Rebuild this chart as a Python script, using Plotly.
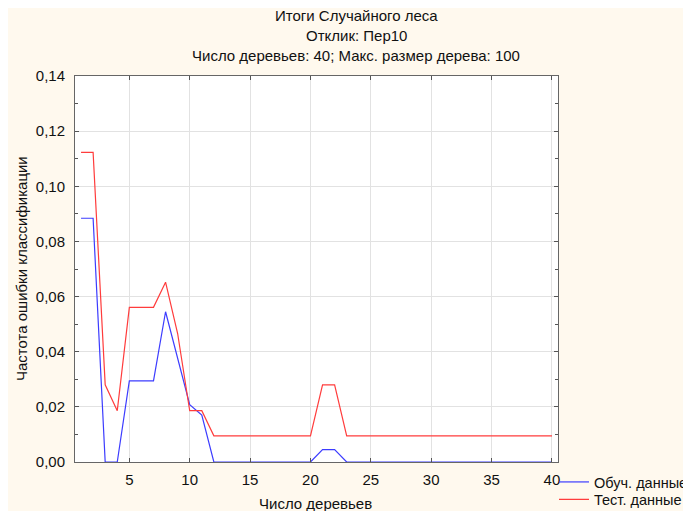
import plotly.graph_objects as go

n_trees = list(range(1, 41))

train_err = [0.0884, 0.0884, 0.0, 0.0, 0.0294, 0.0294, 0.0294, 0.0545, 0.0375, 0.0208,
             0.0170, 0.0, 0.0, 0.0, 0.0, 0.0, 0.0, 0.0, 0.0, 0.0,
             0.0045, 0.0045, 0.0, 0.0, 0.0, 0.0, 0.0, 0.0, 0.0, 0.0,
             0.0, 0.0, 0.0, 0.0, 0.0, 0.0, 0.0, 0.0, 0.0, 0.0]

test_err = [0.1123, 0.1123, 0.0280, 0.0186, 0.0561, 0.0561, 0.0561, 0.0652, 0.0466, 0.0186,
            0.0186, 0.0095, 0.0095, 0.0095, 0.0095, 0.0095, 0.0095, 0.0095, 0.0095, 0.0095,
            0.0280, 0.0280, 0.0095, 0.0095, 0.0095, 0.0095, 0.0095, 0.0095, 0.0095, 0.0095,
            0.0095, 0.0095, 0.0095, 0.0095, 0.0095, 0.0095, 0.0095, 0.0095, 0.0095, 0.0095]

title_lines = ["Итоги Случайного леса", "Отклик: Пер10",
               "Число деревьев: 40; Макс. размер дерева: 100"]
x_title = "Число деревьев"
y_title = "Частота ошибки классификации"
series_names = ["Обуч. данные", "Тест. данные"]

FONT = "Liberation Sans, Arial, sans-serif"
CREAM = "#FFF9EE"
FS = 15

fig = go.Figure()
fig.add_trace(go.Scatter(x=n_trees, y=train_err, mode="lines", name=series_names[0],
                         line=dict(color="#3C3CFF", width=1.2), legend="legend"))
fig.add_trace(go.Scatter(x=n_trees, y=test_err, mode="lines", name=series_names[1],
                         line=dict(color="#FF3C3C", width=1.2), legend="legend2"))

# page body margin offsets the figure by ~9 px
OFF = 9
W, H = 691, 511
# plot area in reference (screen) pixels
SL, SR, ST, SB = 76, 559, 77, 463
L = SL - OFF
T = ST - OFF
R = W - (SR - OFF)
B = H - (SB - OFF)
pw, ph = SR - SL, SB - ST

def px_x(p):
    return (p - SL) / pw

def px_y(p):
    return (SB - p) / ph

annotations = []
for txt, yp in zip(title_lines, [16.5, 36.5, 56.5]):
    annotations.append(dict(text=txt, x=px_x(357), y=px_y(yp), xref="paper", yref="paper",
                            xanchor="center", yanchor="middle", showarrow=False,
                            font=dict(size=FS, color="#111", family=FONT)))
annotations.append(dict(text=x_title, x=px_x(316), y=px_y(504), xref="paper", yref="paper",
                        xanchor="center", yanchor="middle", showarrow=False,
                        font=dict(size=FS, color="#111", family=FONT)))
annotations.append(dict(text=y_title, x=px_x(22), y=px_y(270), xref="paper", yref="paper",
                        xanchor="center", yanchor="middle", showarrow=False, textangle=-90,
                        font=dict(size=FS, color="#111", family=FONT)))

axis_common = dict(showline=True, linecolor="#666", linewidth=1, mirror="ticks",
                   ticks="inside", ticklen=4, tickcolor="#555",
                   showgrid=True, gridcolor="#E2E2E2", gridwidth=1, zeroline=False,
                   tickfont=dict(size=FS, color="#111", family=FONT))

legend_common = dict(xanchor="left", yanchor="top", bgcolor="rgba(0,0,0,0)",
                     font=dict(size=14.5, color="#111", family=FONT))

fig.update_layout(
    width=W, height=H,
    margin=dict(l=L, r=R, t=T, b=B, pad=0, autoexpand=False),
    paper_bgcolor=CREAM, plot_bgcolor="white",
    separators=", ",
    font=dict(family=FONT, size=FS, color="#111"),
    showlegend=True,
    legend=dict(x=px_x(555), y=px_y(467), **legend_common),
    legend2=dict(x=px_x(555), y=px_y(484.5), **legend_common),
    annotations=annotations,
    xaxis=dict(range=[0.5, 40.5], tickmode="array", tickvals=[5, 10, 15, 20, 25, 30, 35, 40],
               ticklabelstandoff=4, **axis_common),
    yaxis=dict(range=[0, 0.14], tickmode="linear", tick0=0, dtick=0.02, tickformat=".2f",
               ticklabelstandoff=6,
               minor=dict(dtick=0.01, ticks="inside", ticklen=3, tickcolor="#555", showgrid=False),
               **axis_common),
)

fig.write_html("out.html")
